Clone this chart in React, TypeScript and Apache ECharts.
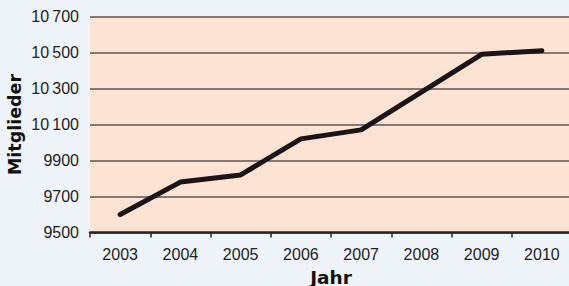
import React, { useEffect, useRef } from "react";
import * as echarts from "echarts";

const years = ["2003", "2004", "2005", "2006", "2007", "2008", "2009", "2010"];
const members = [9600, 9780, 9820, 10020, 10070, 10280, 10490, 10510];
const yMin = 9500;
const yMax = 10700;
const yStep = 200;

const fmt = (v: number) => {
  const s = String(v);
  return s.length > 4 ? s.slice(0, s.length - 3) + "\u2009" + s.slice(s.length - 3) : s;
};

export default function App() {
  const ref = useRef<HTMLDivElement>(null);
  useEffect(() => {
    document.body.style.margin = "0";
    const chart = echarts.init(ref.current!, null, { renderer: "svg" });
    const font = "'Liberation Sans', Arial, Helvetica, sans-serif";
    const titleFont = "'DejaVu Sans', 'Liberation Sans', sans-serif";
    chart.setOption({
      animation: false,
      backgroundColor: "#eef4f9",
      textStyle: { fontFamily: font },
      grid: {
        left: 90,
        right: -3,
        top: 16.5,
        bottom: 53.5,
        show: true,
        backgroundColor: "#fce3d3",
        borderWidth: 0,
        containLabel: false,
        outerBoundsMode: "none",
      },
      xAxis: {
        type: "category",
        data: years,
        boundaryGap: true,
        name: "Jahr",
        nameLocation: "middle",
        nameGap: 35,
        nameMoveOverlap: false,
        nameTextStyle: { fontFamily: titleFont, fontSize: 18.5, fontWeight: "bold", color: "#111" },
        axisLine: { show: true, lineStyle: { color: "#2a2426", width: 2.5 } },
        axisTick: { show: true, length: 5, alignWithLabel: false, lineStyle: { color: "#2a2426", width: 1.5 } },
        axisLabel: { fontFamily: font, fontSize: 16, color: "#222", margin: 14 },
        splitLine: { show: false },
      },
      yAxis: {
        type: "value",
        min: yMin,
        max: yMax,
        interval: yStep,
        name: "Mitglieder",
        nameLocation: "middle",
        nameRotate: 90,
        nameGap: 66,
        nameMoveOverlap: false,
        nameTextStyle: { fontFamily: titleFont, fontSize: 17.5, fontWeight: "bold", color: "#111" },
        axisLine: { show: false },
        axisTick: { show: false },
        axisLabel: { fontFamily: font, fontSize: 16, color: "#222", margin: 11, formatter: fmt },
        splitLine: { show: true, lineStyle: { color: "#5e5455", width: 1.5 } },
      },
      series: [
        {
          type: "line",
          data: members,
          symbol: "none",
          lineStyle: { color: "#1a1416", width: 5, cap: "round", join: "round" },
        },
      ],
    });
    return () => chart.dispose();
  }, []);
  return <div ref={ref} style={{ width: 569, height: 286, position: "absolute", left: 0, top: 0 }} />;
}
